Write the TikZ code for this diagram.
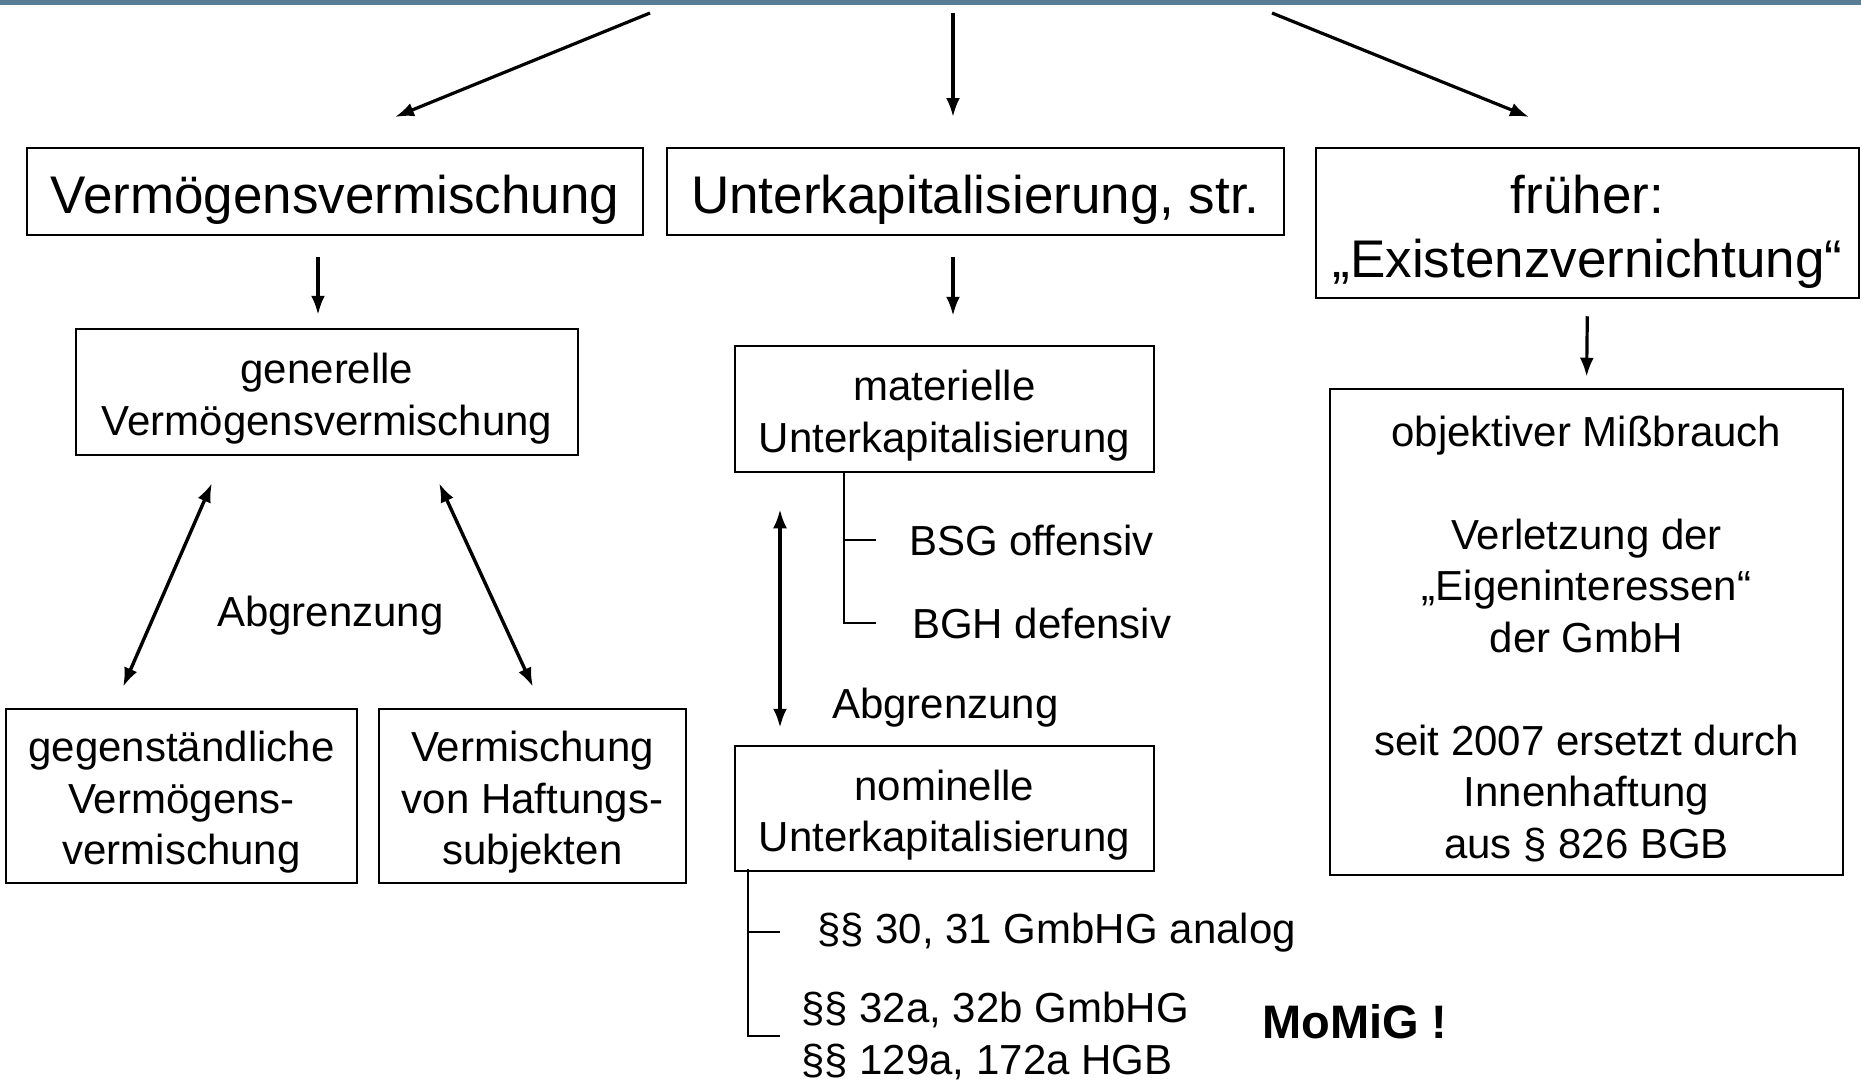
\documentclass[tikz,border=0pt]{standalone}
\usepackage{fontspec}
\setmainfont{Liberation Sans}
\usetikzlibrary{arrows.meta}
\definecolor{barblue}{RGB}{88,125,148}
\newcommand{\topstrut}{\rule{0pt}{1.04em}}

\begin{document}
\begin{tikzpicture}[x=1pt,y=1pt,yscale=-1,
    box/.style={draw, line width=2.5pt, inner sep=0pt, align=center, font=\fontsize{42}{51.5}\selectfont},
    bigbox/.style={box, font=\fontsize{53}{64}\selectfont},
    lbl/.style={inner sep=0pt, anchor=base west, font=\fontsize{42}{51.5}\selectfont},
    arr/.style={line width=3.2pt, -{Latex[length=19pt,width=14pt]}},
    dbl/.style={line width=3.4pt, {Latex[length=19pt,width=14pt]}-{Latex[length=19pt,width=14pt]}},
    brk/.style={line width=1.6pt}]

    \useasboundingbox (0,0) rectangle (1861,1080);
    %Shape: Bar
    \fill [barblue] (0,0) rectangle (1861,5);

    %Shape: Rectangle
    \draw (335,191.5) node [bigbox, minimum width=616, minimum height=87] (vv) {\topstrut Vermögensvermischung};
    %Shape: Rectangle
    \draw (975.5,191.5) node [bigbox, minimum width=617, minimum height=87] (uk) {\topstrut Unterkapitalisierung, str.};
    %Shape: Rectangle
    \draw (1587.5,223) node [bigbox, minimum width=543, minimum height=150] (fe) {\topstrut früher:\\„Existenzvernichtung“};

    %Shape: Rectangle
    \draw (327,392) node [box, minimum width=502, minimum height=126] (gv) {\topstrut generelle\\Vermögensvermischung};
    %Shape: Rectangle
    \draw (944.5,409) node [box, minimum width=419, minimum height=126] (mu) {\topstrut materielle\\Unterkapitalisierung};
    %Shape: Rectangle
    \draw (1586.5,632) node [box, minimum width=513, minimum height=486] (om) {\topstrut objektiver Mißbrauch\\[51.5pt]Verletzung der\\„Eigeninteressen“\\der GmbH\\[51.5pt]seit 2007 ersetzt durch\\Innenhaftung\\aus § 826 BGB};
    %Shape: Rectangle
    \draw (181.5,796) node [box, minimum width=351, minimum height=174] (gg) {\topstrut gegenständliche\\Vermögens-\\vermischung};
    %Shape: Rectangle
    \draw (532.5,796) node [box, minimum width=307, minimum height=174] (vh) {\topstrut Vermischung\\von Haftungs-\\subjekten};
    %Shape: Rectangle
    \draw (944.5,808.5) node [box, minimum width=419, minimum height=125] (nu) {\topstrut nominelle\\Unterkapitalisierung};

    % Text Node
    \draw (217,626) node [lbl] (abl) {Abgrenzung};
    % Text Node
    \draw (832,718) node [lbl] (abm) {Abgrenzung};
    % Text Node
    \draw (909,555) node [lbl] (bsg) {BSG offensiv};
    % Text Node
    \draw (912,638) node [lbl] (bgh) {BGH defensiv};
    % Text Node
    \draw (817,943) node [lbl] (p30) {§§ 30, 31 GmbHG analog};
    % Text Node
    \draw (801,1036) node [lbl, anchor=west, align=left] (p32) {§§ 32a, 32b GmbHG\\§§ 129a, 172a HGB};
    % Text Node
    \draw (1262,1038) node [lbl, font=\fontsize{47}{56}\selectfont\bfseries] (momig) {MoMiG !};

    %Straight Lines
    \coordinate (t1) at (650,13);  \coordinate (e1) at (395,117);
    \coordinate (t2) at (953,13);  \coordinate (e2) at (953,117);
    \coordinate (t3) at (1272,13); \coordinate (e3) at (1529,117);
    \draw [arr] (t1) -- (e1);
    \draw [arr] (t2) -- (e2);
    \draw [arr] (t3) -- (e3);

    %Straight Lines
    \draw [arr, shorten <=21pt, shorten >=13pt] ([xshift=-17pt]vv.south) -- ([xshift=-9pt]gv.north);
    \draw [arr, shorten <=21pt, shorten >=29pt] ([xshift=-22.5pt]uk.south) -- ([xshift=8.5pt]mu.north);
    \draw [arr, shorten <=17pt, shorten >=11pt] (fe.south) -- (om.north);

    %Straight Lines
    \draw [dbl, shorten <=29.4pt, shorten >=22.9pt] ([xshift=-103.3pt]gv.south) -- ([xshift=-67.6pt]gg.north);
    \draw [dbl, shorten <=29.7pt, shorten >=23.1pt] ([xshift=99.7pt]gv.south) -- ([xshift=10.1pt]vh.north);
    \draw [dbl, shorten <=36pt, shorten >=17pt] ([xshift=-164.5pt]mu.south) -- ([xshift=-164.5pt]nu.north);

    %Straight Lines
    \coordinate (mub) at ([xshift=-100.5pt]mu.south);
    \draw [brk] ([yshift=-2pt]mub) |- ([xshift=-36pt]bgh.west);
    \draw [brk] (mub |- bsg.west) -- ([xshift=-33pt]bsg.west);
    \coordinate (nub) at ([xshift=-196.5pt]nu.south);
    \draw [brk] ([yshift=-3pt]nub) |- ([xshift=-21pt]p32.west);
    \draw [brk] (nub |- p30.west) -- ([xshift=-37pt]p30.west);

\end{tikzpicture}
\end{document}
